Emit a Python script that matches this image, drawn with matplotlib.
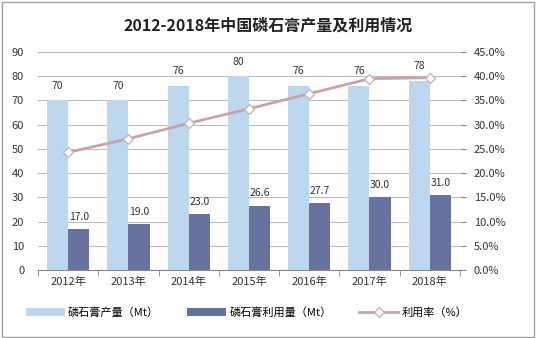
import matplotlib
matplotlib.use("Agg")
import matplotlib.pyplot as plt
from matplotlib.patches import Rectangle
import numpy as np

plt.rcParams["font.family"] = ["Noto Sans CJK SC", "DejaVu Sans"]

years = ["2012年", "2013年", "2014年", "2015年", "2016年", "2017年", "2018年"]
production = [70, 70, 76, 80, 76, 76, 78]
utilization = [17.0, 19.0, 23.0, 26.6, 27.7, 30.0, 31.0]
rate = [24.3, 27.1, 30.3, 33.3, 36.4, 39.5, 39.7]

light_blue = "#BDD7EE"
dark_blue = "#67739E"
line_color = "#C9A3AA"

fig = plt.figure(figsize=(5.36, 3.38), dpi=100)
fig.patches.append(Rectangle((0.004, 0.004), 0.992, 0.99, transform=fig.transFigure,
                             fill=False, edgecolor="#A0A0A0", linewidth=1))

ax = fig.add_axes([0.071, 0.201, 0.787, 0.645])
x = np.arange(len(years))
w = 0.35

ax.bar(x - w / 2, production, width=w, color=light_blue, zorder=2, label="磷石膏产量（Mt）")
ax.bar(x + w / 2, utilization, width=w, color=dark_blue, zorder=2, label="磷石膏利用量（Mt）")

for xi, v in zip(x, production):
    ax.text(xi - w / 2, v + 4, f"{v:d}", ha="center", va="bottom", fontsize=7.5, color="#333333")
for xi, v in zip(x, utilization):
    ax.text(xi + w / 2, v + 3, f"{v:.1f}", ha="center", va="bottom", fontsize=7.5, color="#333333")

ax.set_xlim(-0.5, len(years) - 0.5)
ax.set_ylim(0, 90)
ax.set_yticks(range(0, 91, 10))
ax.set_xticks(x)
ax.set_xticklabels(years, fontsize=8, color="#333333")
ax.set_xticks(np.arange(-0.5, len(years), 1), minor=True)
ax.tick_params(axis="x", which="major", length=0, pad=5)
ax.tick_params(axis="x", which="minor", length=4, color="#888888")
ax.tick_params(axis="y", length=0, labelsize=8, labelcolor="#333333", pad=10)
ax.grid(axis="y", color="#BBBBBB", linewidth=0.8, zorder=0)
ax.set_axisbelow(True)
for side in ["top", "right", "left"]:
    ax.spines[side].set_visible(False)
ax.spines["bottom"].set_color("#888888")

ax2 = ax.twinx()
ax2.plot(x, rate, color=line_color, linewidth=2, marker="D", markersize=5,
         markerfacecolor="white", markeredgecolor="#BBBBBB", zorder=3, label="利用率（%）")
ax2.set_ylim(0, 45)
ax2.set_yticks(np.arange(0, 46, 5))
ax2.set_yticklabels([f"{t:.1f}%" for t in np.arange(0, 46, 5)])
ax2.tick_params(axis="y", length=4, color="#888888", labelsize=8, labelcolor="#333333", pad=6)
for side in ["top", "left", "bottom"]:
    ax2.spines[side].set_visible(False)
ax2.spines["right"].set_visible(False)

fig.text(0.5, 0.925, "2012-2018年中国磷石膏产量及利用情况", ha="center", va="center",
         fontsize=11.5, fontweight="bold", color="#222222")

h1, l1 = ax.get_legend_handles_labels()
h2, l2 = ax2.get_legend_handles_labels()
fig.legend(h1 + h2, l1 + l2, loc="center", bbox_to_anchor=(0.46, 0.075), ncol=3,
           frameon=False, fontsize=8, handlelength=3.5, columnspacing=2.5, handletextpad=0.3)

fig.savefig("out.png", dpi=100)
